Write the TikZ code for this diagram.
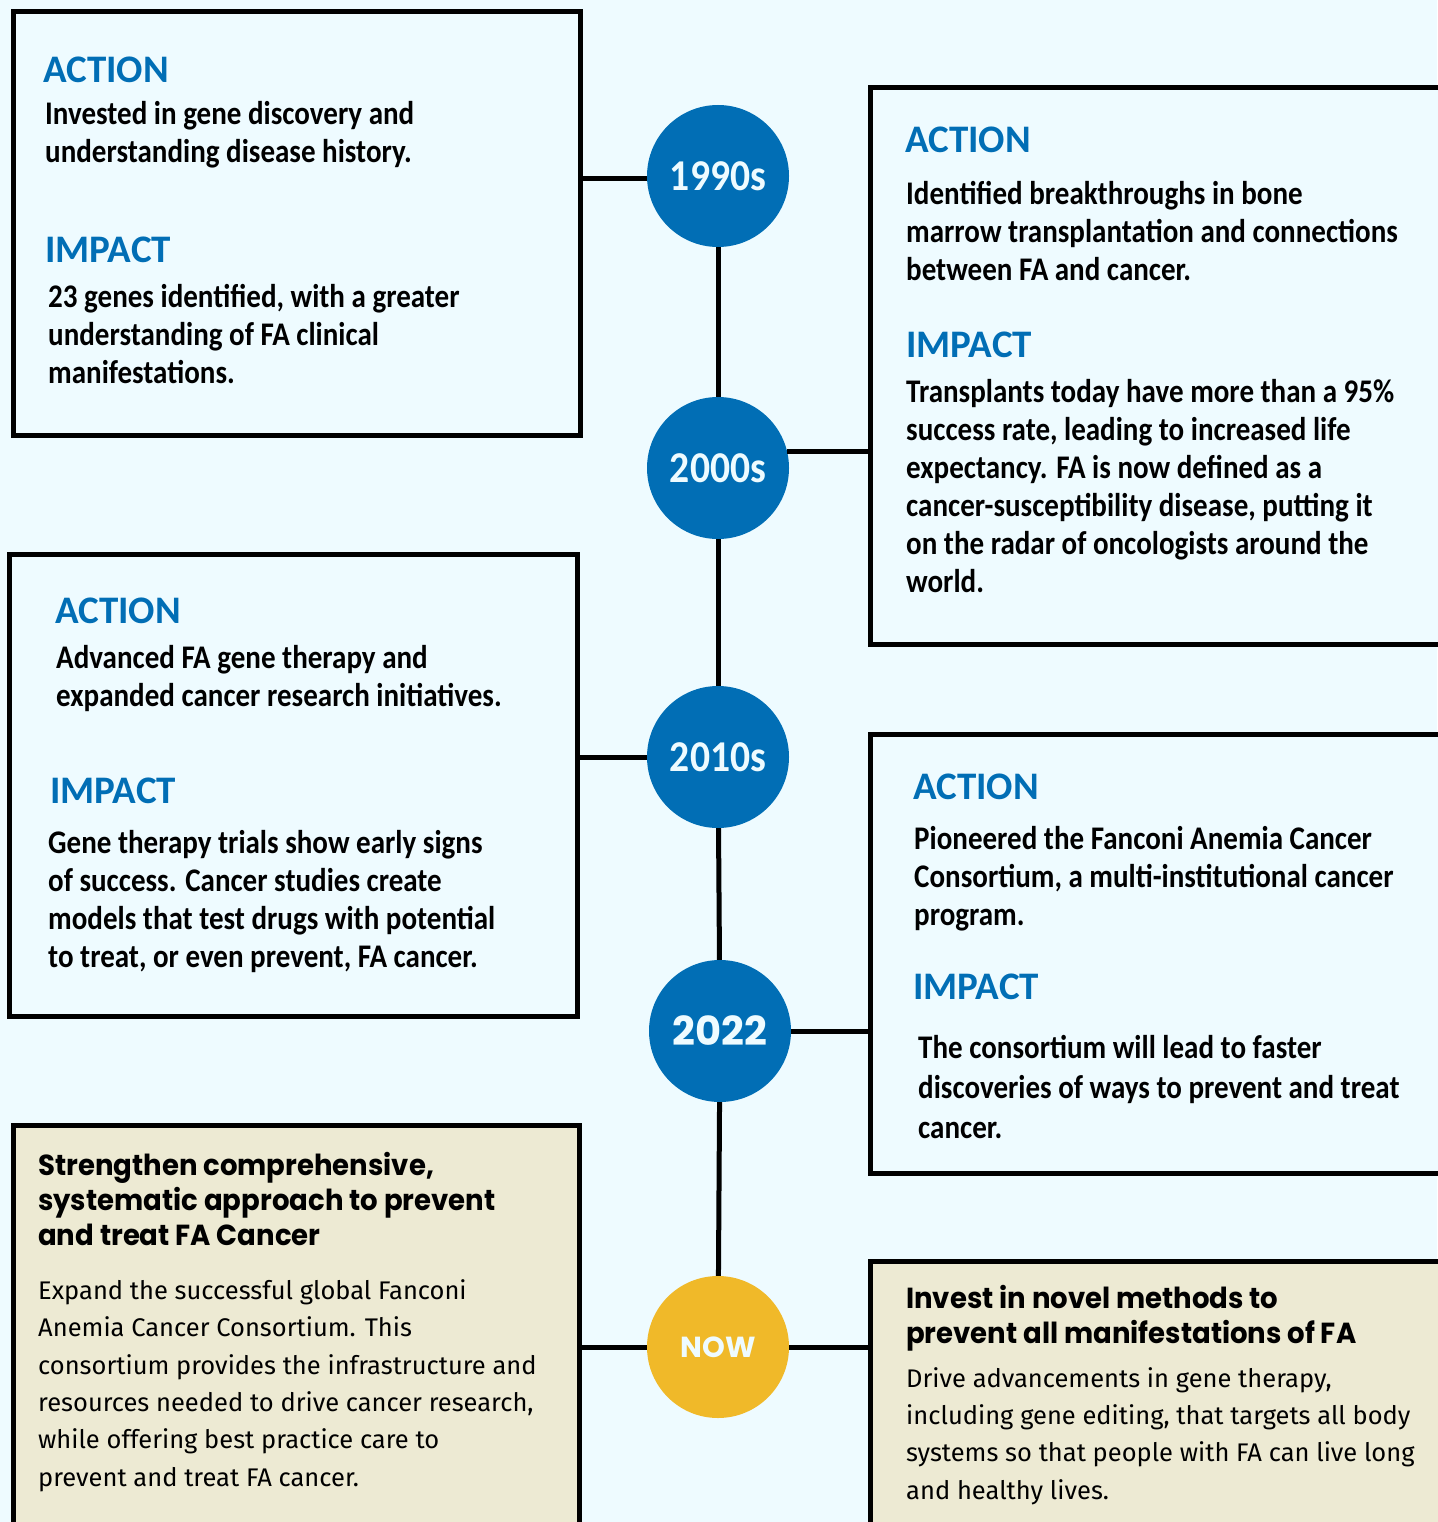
\documentclass[tikz,border=0pt]{standalone}
\usepackage{fontspec}
\usepackage{tikz}
\usetikzlibrary{positioning}
\newfontfamily\condfont[FakeStretch=0.88]{Carlito}
\newfontfamily\headfont{Carlito}
\newfontfamily\yearfont[FakeStretch=0.9]{Carlito}
\newfontfamily\geofont{Poppins}
\newfontfamily\geohead[FakeStretch=0.95]{Poppins}
\newfontfamily\plainfont{Fira Sans}
\definecolor{bgcyan}{HTML}{EEFBFF}
\definecolor{eraBlue}{HTML}{016EB5}
\definecolor{nowGold}{HTML}{F0B929}
\definecolor{goalBeige}{HTML}{EDEAD3}

\begin{document}
\begin{tikzpicture}[x=1pt,y=-1pt]
	\tikzstyle{era_box} = [rectangle, draw, line width=5pt, fill=bgcyan, inner sep=0pt]
	\tikzstyle{goal_box} = [era_box, fill=goalBeige]
	\tikzstyle{era_dot} = [circle, fill=eraBlue, minimum size=142pt, inner sep=0pt, text=bgcyan, font=\yearfont\bfseries\fontsize{44}{44}\selectfont]
	\tikzstyle{head_text} = [anchor=base west, inner sep=0pt, text=eraBlue, font=\headfont\bfseries\fontsize{39}{40}\selectfont]
	\tikzstyle{body_text} = [anchor=base west, inner sep=0pt, align=left, font=\condfont\bfseries\fontsize{33}{38}\selectfont]
	\tikzstyle{goal_head} = [anchor=base west, inner sep=0pt, align=left, font=\geohead\bfseries\fontsize{29}{35}\selectfont]
	\tikzstyle{goal_text} = [anchor=base west, inner sep=0pt, align=left, font=\plainfont\fontsize{25.5}{37.3}\selectfont]
	\tikzstyle{link} = [line width=5pt]

	\useasboundingbox (0,0) rectangle (1437,1522);
	\fill[bgcyan] (0,0) rectangle (1437,1522);

	% Boxes
	\node (b1) [era_box, minimum width=567pt, minimum height=423pt] at (296.5,223.5) {};
	\node (b2) [era_box, minimum width=575pt, minimum height=556pt] at (1157.5,366) {};
	\node (b3) [era_box, minimum width=568pt, minimum height=462pt] at (293,785) {};
	\node (b4) [era_box, minimum width=575pt, minimum height=439pt] at (1157.5,953.5) {};
	\node (b5) [goal_box, minimum width=566pt, minimum height=415pt] at (296,1332.5) {};
	\node (b6) [goal_box, minimum width=575pt, minimum height=279pt] at (1157.5,1400.5) {};

	% Timeline
	\node (y1990) [era_dot] at (718,176) {1990s};
	\node (y2000) [era_dot] at (718,468) {2000s};
	\node (y2010) [era_dot] at (718,757) {2010s};
	\node (y2022) [era_dot, font=\geofont\bfseries\fontsize{40}{40}\selectfont] at (720,1031) {2022};
	\node (ynow) [era_dot, fill=nowGold, font=\geofont\bfseries\fontsize{29}{30}\selectfont] at (718,1347) {NOW};
	\draw[link] (y1990) -- (y2000);
	\draw[link] (y2000) -- (y2010);
	\draw[link] (y2010) -- (y2022);
	\draw[link] (y2022) -- (ynow);

	% Branches
	\draw[link] (y1990.182) -- (y1990.182 -| b1.east);
	\draw[link] (y2000.13) -- (y2000.13 -| b2.west);
	\draw[link] (y2010) -- (y2010 -| b3.east);
	\draw[link] (y2022) -- (y2022 -| b4.west);
	\draw[link] (ynow) -- (ynow -| b5.east);
	\draw[link] (ynow) -- (ynow -| b6.west);

	% 1990s
	\node (a1) [head_text] at (43,83) {ACTION};
	\node (a1t) [body_text] at (45,163) {Invested in gene discovery and\\understanding disease history.};
	\node (i1) [head_text] at (45,262) {IMPACT};
	\node (i1t) [body_text] at (48,383) {23 genes identified, with a greater\\understanding of FA clinical\\manifestations.};

	% 2000s
	\node (a2) [head_text] at (905,153) {ACTION};
	\node (a2t) [body_text] at (906,280) {Identified breakthroughs in bone\\marrow transplantation and connections\\between FA and cancer.};
	\node (i2) [head_text] at (906,357) {IMPACT};
	\node (i2t) [body_text] at (906,592) {Transplants today have more than a 95\%\\success rate, leading to increased life\\expectancy. FA is now defined as a\\cancer-susceptibility disease, putting it\\on the radar of oncologists around the\\world.};

	% 2010s
	\node (a3) [head_text] at (55,623) {ACTION};
	\node (a3t) [body_text] at (56,706) {Advanced FA gene therapy and\\expanded cancer research initiatives.};
	\node (i3) [head_text] at (50,803) {IMPACT};
	\node (i3t) [body_text] at (48,967) {Gene therapy trials show early signs\\of success. Cancer studies create\\models that test drugs with potential\\to treat, or even prevent, FA cancer.};

	% 2022
	\node (a4) [head_text] at (913,799) {ACTION};
	\node (a4t) [body_text] at (914,925) {Pioneered the Fanconi Anemia Cancer\\Consortium, a multi-institutional cancer\\program.};
	\node (i4) [head_text] at (913,999) {IMPACT};
	\node (i4t) [body_text, font=\condfont\bfseries\fontsize{33}{40}\selectfont] at (918,1138) {The consortium will lead to faster\\discoveries of ways to prevent and treat\\cancer.};

	% Now
	\node (g1) [goal_head] at (38,1245) {Strengthen comprehensive,\\systematic approach to prevent\\and treat FA Cancer};
	\node (g1t) [goal_text] at (38,1486) {Expand the successful global Fanconi\\Anemia Cancer Consortium. This\\consortium provides the infrastructure and\\resources needed to drive cancer research,\\while offering best practice care to\\prevent and treat FA cancer.};
	\node (g2) [goal_head] at (906,1343) {Invest in novel methods to\\prevent all manifestations of FA};
	\node (g2t) [goal_text] at (906,1499) {Drive advancements in gene therapy,\\including gene editing, that targets all body\\systems so that people with FA can live long\\and healthy lives.};
\end{tikzpicture}
\end{document}
